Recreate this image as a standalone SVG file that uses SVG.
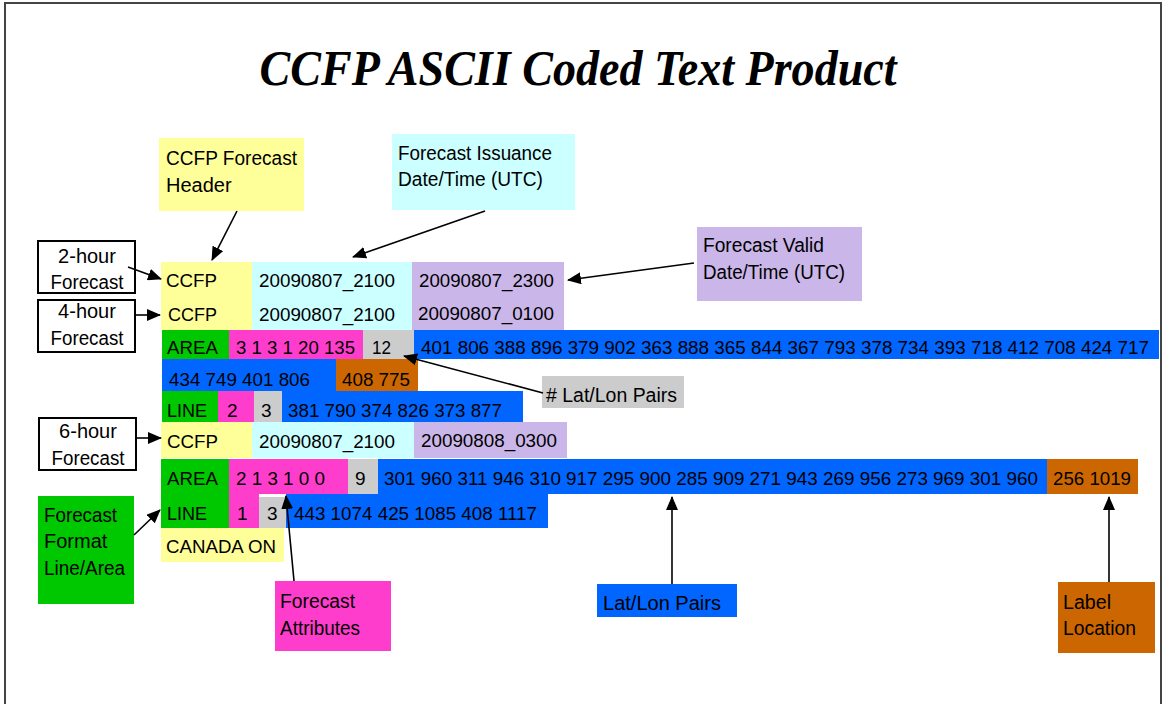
<svg xmlns="http://www.w3.org/2000/svg" width="1165" height="704" viewBox="0 0 1165 704">
<defs>
<marker id="ah" markerUnits="userSpaceOnUse" markerWidth="14" markerHeight="12" refX="13" refY="6" orient="auto">
<path d="M0,0 L14,6 L0,12 Z" fill="#000"/>
</marker>
<style>
text{font-family:"Liberation Sans",Arial,sans-serif;fill:#000}
.title{font-family:"Liberation Serif","Times New Roman",serif;font-weight:bold;font-style:italic;font-size:50px;text-anchor:middle}
.t{font-size:19px}
.l{font-size:20px}
.c{font-size:20px;text-anchor:middle}
.y{fill:#FFFF99}.cy{fill:#CCFFFF}.p{fill:#CAB6E8}.g{fill:#00C800}.m{fill:#FF3DCC}.gr{fill:#CCCCCC}.b{fill:#0066FF}.o{fill:#CC6600}
.wb{fill:#fff;stroke:#000;stroke-width:2}
.cn{stroke:#000;stroke-width:1.6;fill:none;marker-end:url(#ah)}
</style>
</defs>
<rect x="0" y="0" width="1165" height="704" fill="#fff"/>
<rect x="5" y="3" width="1156" height="740" fill="none" stroke="#444" stroke-width="2"/>
<text class="title" x="578" y="85" textLength="637" lengthAdjust="spacingAndGlyphs">CCFP ASCII Coded Text Product</text>

<g id="header-box"><rect class="y" x="159" y="138" width="145" height="73"/><text class="l" x="166" y="165" textLength="131" lengthAdjust="spacingAndGlyphs">CCFP Forecast</text><text class="l" x="166" y="192">Header</text></g>
<g id="issuance-box"><rect class="cy" x="392" y="134" width="183" height="76"/><text class="l" x="398" y="160" textLength="154" lengthAdjust="spacingAndGlyphs">Forecast Issuance</text><text class="l" x="398" y="186" textLength="145" lengthAdjust="spacingAndGlyphs">Date/Time (UTC)</text></g>
<g id="valid-box"><rect class="p" x="697" y="227" width="165" height="74"/><text class="l" x="703" y="252" textLength="121" lengthAdjust="spacingAndGlyphs">Forecast Valid</text><text class="l" x="703" y="279" textLength="142" lengthAdjust="spacingAndGlyphs">Date/Time (UTC)</text></g>

<g id="lbl-2hour"><rect class="wb" x="38" y="241" width="97" height="52"/><text class="c" x="87" y="263">2-hour</text><text class="c" x="87" y="289" textLength="73" lengthAdjust="spacingAndGlyphs">Forecast</text></g>
<g id="lbl-4hour"><rect class="wb" x="38" y="300" width="97" height="52"/><text class="c" x="87" y="318">4-hour</text><text class="c" x="87" y="345" textLength="73" lengthAdjust="spacingAndGlyphs">Forecast</text></g>
<g id="lbl-6hour"><rect class="wb" x="39" y="418" width="97" height="52"/><text class="c" x="88" y="438">6-hour</text><text class="c" x="88" y="465" textLength="73" lengthAdjust="spacingAndGlyphs">Forecast</text></g>
<g id="format-box"><rect class="g" x="38" y="496" width="96" height="108"/><text class="l" x="44" y="522" textLength="73" lengthAdjust="spacingAndGlyphs">Forecast</text><text class="l" x="44" y="548">Format</text><text class="l" x="44" y="575" textLength="81" lengthAdjust="spacingAndGlyphs">Line/Area</text></g>

<g id="row-2hour">
<rect class="y" x="161" y="262" width="91" height="33"/><rect class="cy" x="252" y="262" width="160" height="33"/><rect class="p" x="412" y="262" width="152" height="33"/>
<text class="t" x="166" y="287" textLength="51" lengthAdjust="spacingAndGlyphs">CCFP</text>
<text class="t" x="259" y="287" textLength="136" lengthAdjust="spacingAndGlyphs">20090807_2100</text>
<text class="t" x="419" y="287" textLength="135" lengthAdjust="spacingAndGlyphs">20090807_2300</text>
</g>
<g id="row-4hour">
<rect class="y" x="161" y="295" width="91" height="35"/><rect class="cy" x="252" y="295" width="160" height="35"/><rect class="p" x="412" y="295" width="152" height="35"/>
<text class="t" x="168" y="321" textLength="49" lengthAdjust="spacingAndGlyphs">CCFP</text>
<text class="t" x="259" y="321" textLength="136" lengthAdjust="spacingAndGlyphs">20090807_2100</text>
<text class="t" x="418" y="320" textLength="136" lengthAdjust="spacingAndGlyphs">20090807_0100</text>
</g>
<g id="row-area1">
<rect class="g" x="162" y="330" width="67" height="29"/><rect class="m" x="229" y="330" width="134" height="29"/><rect class="gr" x="363" y="330" width="51" height="29"/><rect class="b" x="414" y="330" width="745" height="29"/>
<text class="t" x="167" y="354" textLength="51" lengthAdjust="spacingAndGlyphs">AREA</text>
<text class="t" x="236" y="354" textLength="119" lengthAdjust="spacingAndGlyphs">3 1 3 1 20 135</text>
<text class="t" x="372" y="354" textLength="19" lengthAdjust="spacingAndGlyphs">12</text>
<text class="t" x="421" y="354" textLength="728" lengthAdjust="spacingAndGlyphs">401 806 388 896 379 902 363 888 365 844 367 793 378 734 393 718 412 708 424 717</text>
</g>
<g id="row-area1b">
<rect class="b" x="162" y="359" width="174" height="32"/><rect class="o" x="336" y="359" width="82" height="32"/>
<text class="t" x="169" y="386" textLength="141" lengthAdjust="spacingAndGlyphs">434 749 401 806</text>
<text class="t" x="342" y="386" textLength="68" lengthAdjust="spacingAndGlyphs">408 775</text>
</g>
<g id="row-line1">
<rect class="g" x="162" y="391" width="56" height="31"/><rect class="m" x="218" y="391" width="36" height="31"/><rect class="gr" x="254" y="391" width="28" height="31"/><rect class="b" x="282" y="391" width="241" height="31"/>
<text class="t" x="167" y="417" textLength="40" lengthAdjust="spacingAndGlyphs">LINE</text>
<text class="t" x="227" y="417">2</text>
<text class="t" x="261" y="417">3</text>
<text class="t" x="288" y="417" textLength="214" lengthAdjust="spacingAndGlyphs">381 790 374 826 373 877</text>
</g>
<g id="row-6hour">
<rect class="y" x="161" y="422" width="91" height="36"/><rect class="cy" x="252" y="422" width="162" height="36"/><rect class="p" x="414" y="422" width="153" height="36"/>
<text class="t" x="167" y="448" textLength="51" lengthAdjust="spacingAndGlyphs">CCFP</text>
<text class="t" x="259" y="448" textLength="136" lengthAdjust="spacingAndGlyphs">20090807_2100</text>
<text class="t" x="421" y="447" textLength="136" lengthAdjust="spacingAndGlyphs">20090808_0300</text>
</g>
<g id="row-area2">
<rect class="g" x="161" y="459" width="68" height="35"/><rect class="m" x="229" y="459" width="119" height="35"/><rect class="gr" x="348" y="459" width="30" height="35"/><rect class="b" x="378" y="459" width="669" height="35"/><rect class="o" x="1047" y="459" width="91" height="35"/>
<text class="t" x="167" y="485" textLength="51" lengthAdjust="spacingAndGlyphs">AREA</text>
<text class="t" x="236" y="485" textLength="89" lengthAdjust="spacingAndGlyphs">2 1 3 1 0 0</text>
<text class="t" x="355" y="485">9</text>
<text class="t" x="384" y="485" textLength="654" lengthAdjust="spacingAndGlyphs">301 960 311 946 310 917 295 900 285 909 271 943 269 956 273 969 301 960</text>
<text class="t" x="1053" y="485" textLength="78" lengthAdjust="spacingAndGlyphs">256 1019</text>
</g>
<g id="row-line2">
<rect class="g" x="161" y="494" width="68" height="34"/><rect class="m" x="229" y="494" width="30" height="34"/><rect class="gr" x="259" y="497" width="27" height="31"/><rect class="b" x="286" y="494" width="262" height="34"/>
<text class="t" x="167" y="520" textLength="40" lengthAdjust="spacingAndGlyphs">LINE</text>
<text class="t" x="237" y="520">1</text>
<text class="t" x="267" y="520">3</text>
<text class="t" x="294" y="520" textLength="243" lengthAdjust="spacingAndGlyphs">443 1074 425 1085 408 1117</text>
</g>
<g id="row-canada">
<rect class="y" x="161" y="528" width="123" height="34"/>
<text class="t" x="166" y="553" textLength="110" lengthAdjust="spacingAndGlyphs">CANADA ON</text>
</g>

<g id="latlon-count-box"><rect class="gr" x="542" y="376" width="142" height="32"/><text class="l" x="546" y="402" textLength="131" lengthAdjust="spacingAndGlyphs"># Lat/Lon Pairs</text></g>
<g id="attr-box"><rect class="m" x="275" y="581" width="116" height="70"/><text class="l" x="280" y="608" textLength="75" lengthAdjust="spacingAndGlyphs">Forecast</text><text class="l" x="280" y="635" textLength="80" lengthAdjust="spacingAndGlyphs">Attributes</text></g>
<g id="latlon-box"><rect class="b" x="597" y="584" width="140" height="33"/><text class="l" x="603" y="610" textLength="118" lengthAdjust="spacingAndGlyphs">Lat/Lon Pairs</text></g>
<g id="label-box"><rect class="o" x="1058" y="582" width="97" height="71"/><text class="l" x="1063" y="609" textLength="48" lengthAdjust="spacingAndGlyphs">Label</text><text class="l" x="1063" y="635" textLength="73" lengthAdjust="spacingAndGlyphs">Location</text></g>

<g id="connectors">
<line class="cn" x1="237" y1="211" x2="212" y2="260"/>
<line class="cn" x1="485" y1="211" x2="353" y2="257"/>
<line class="cn" x1="694" y1="263" x2="568" y2="280"/>
<line class="cn" x1="128" y1="267" x2="161" y2="279"/>
<line class="cn" x1="135" y1="315" x2="160" y2="315"/>
<line class="cn" x1="137" y1="438" x2="161" y2="438"/>
<line class="cn" x1="543" y1="393" x2="404" y2="356"/>
<line class="cn" x1="134" y1="535" x2="160" y2="510"/>
<line class="cn" x1="294" y1="581" x2="286" y2="496"/>
<line class="cn" x1="672" y1="584" x2="672" y2="497"/>
<line class="cn" x1="1109" y1="582" x2="1109" y2="497"/>
</g>
</svg>
